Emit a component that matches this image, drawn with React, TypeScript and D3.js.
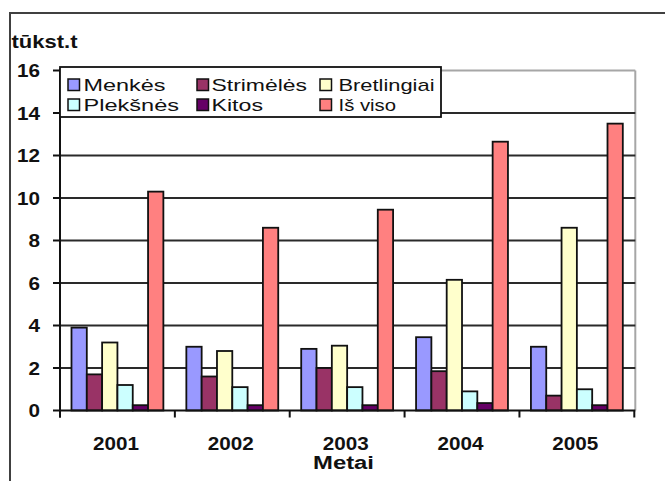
import React from "react";
import * as d3 from "d3";

const years = ["2001", "2002", "2003", "2004", "2005"];
const seriesNames = ["Menkės", "Strimėlės", "Bretlingiai", "Plekšnės", "Kitos", "Iš viso"];
const menkes = [3.9, 3.0, 2.9, 3.45, 3.0];
const strimeles = [1.7, 1.6, 2.0, 1.85, 0.7];
const bretlingiai = [3.2, 2.8, 3.05, 6.15, 8.6];
const pleksnes = [1.2, 1.1, 1.1, 0.9, 1.0];
const kitos = [0.25, 0.25, 0.25, 0.35, 0.25];
const isViso = [10.3, 8.6, 9.45, 12.65, 13.5];
const yTicks = [0, 2, 4, 6, 8, 10, 12, 14, 16];

const seriesValues = [menkes, strimeles, bretlingiai, pleksnes, kitos, isViso];
const colors = ["#9999FF", "#993366", "#FFFFCC", "#CCFFFF", "#660066", "#FF8080"];

const W = 665;
const H = 481;
const plot = { left: 60, right: 634.3, top: 70.5, bottom: 410.5 };
const font = "Arial, 'Liberation Sans', sans-serif";

// legend layout: three columns, two rows
const legendBox = { x: 60, y: 67, w: 381, h: 50 };
const legendCols = [68, 197, 320];
const legendTextX = [83.5, 211.5, 338.5];
const legendRows = [79, 99];
const legendTextWidth = [82, 95.5, 96, 95.5, 51.5, 57.5];

export default function App() {
  const x0 = d3.scaleBand<string>().domain(years).range([plot.left, plot.right]).paddingInner(0).paddingOuter(0);
  const x1 = d3
    .scaleBand<string>()
    .domain(seriesNames)
    .range([0, x0.bandwidth()])
    .paddingInner(0)
    .paddingOuter(0.75);
  const y = d3.scaleLinear().domain([0, 16]).range([plot.bottom, plot.top]);

  const boundaries = [...years.map((yr) => x0(yr) as number), plot.right];

  return (
    <div style={{ position: "absolute", left: 0, top: 0 }}>
      <svg width={W} height={H} style={{ display: "block", background: "#fff" }}>
        {/* chart area frame */}
        <rect x={10} y={13} width={700} height={520} fill="#fff" stroke="#404040" strokeWidth={2} />

        {/* plot area: grey top and right edges */}
        <line x1={plot.left} x2={plot.right + 1} y1={plot.top} y2={plot.top} stroke="#a6a6a6" strokeWidth={2} />
        <line x1={plot.right + 1} x2={plot.right + 1} y1={plot.top} y2={plot.bottom} stroke="#a6a6a6" strokeWidth={2} />

        {/* gridlines */}
        {yTicks
          .filter((t) => t > 0 && t < 16)
          .map((t) => (
            <line key={t} x1={plot.left} x2={plot.right + 1} y1={y(t)} y2={y(t)} stroke="#2a2a2a" strokeWidth={2} />
          ))}

        {/* bars */}
        {years.map((yr, i) => (
          <g key={yr}>
            {seriesNames.map((s, j) => {
              const v = seriesValues[j][i];
              const bx = (x0(yr) as number) + (x1(s) as number);
              return (
                <rect
                  key={s}
                  x={bx}
                  y={y(v)}
                  width={x1.bandwidth()}
                  height={y(0) - y(v)}
                  fill={colors[j]}
                  stroke="#111"
                  strokeWidth={1.8}
                />
              );
            })}
          </g>
        ))}

        {/* axes */}
        <line x1={plot.left} x2={plot.right + 1} y1={plot.bottom} y2={plot.bottom} stroke="#111" strokeWidth={2} />
        <line x1={plot.left} x2={plot.left} y1={plot.top - 2} y2={plot.bottom + 7} stroke="#111" strokeWidth={2} />
        {boundaries.map((bx, i) => (
          <line key={i} x1={bx} x2={bx} y1={plot.bottom} y2={plot.bottom + 7} stroke="#111" strokeWidth={2} />
        ))}
        {yTicks.map((t) => (
          <g key={t}>
            <line x1={plot.left - 7} x2={plot.left} y1={y(t)} y2={y(t)} stroke="#111" strokeWidth={2} />
            <text
              x={40}
              y={y(t) + 6.5}
              textAnchor="end"
              fontFamily={font}
              fontWeight="bold"
              fontSize={18}
              fill="#111"
              textLength={t >= 10 ? 23 : 11.5}
              lengthAdjust="spacingAndGlyphs"
            >
              {t}
            </text>
          </g>
        ))}

        {/* category labels */}
        {years.map((yr) => (
          <text
            key={yr}
            x={(x0(yr) as number) + x0.bandwidth() / 2 - 1.5}
            y={449.5}
            textAnchor="middle"
            fontFamily={font}
            fontWeight="bold"
            fontSize={18}
            fill="#111"
            textLength={46}
            lengthAdjust="spacingAndGlyphs"
          >
            {yr}
          </text>
        ))}
        <text
          x={343.5}
          y={468.5}
          textAnchor="middle"
          fontFamily={font}
          fontWeight="bold"
          fontSize={17.5}
          fill="#111"
          textLength={61}
          lengthAdjust="spacingAndGlyphs"
        >
          Metai
        </text>

        {/* unit label */}
        <text
          x={11.5}
          y={47.5}
          fontFamily={font}
          fontWeight="bold"
          fontSize={18}
          fill="#111"
          textLength={66}
          lengthAdjust="spacingAndGlyphs"
        >
          tūkst.t
        </text>

        {/* legend */}
        <rect
          x={legendBox.x}
          y={legendBox.y}
          width={legendBox.w}
          height={legendBox.h}
          fill="#fff"
          stroke="#111"
          strokeWidth={1.8}
        />
        {seriesNames.map((s, j) => {
          const col = j % 3;
          const row = Math.floor(j / 3);
          return (
            <g key={s}>
              <rect
                x={legendCols[col]}
                y={legendRows[row]}
                width={11.5}
                height={11.5}
                fill={colors[j]}
                stroke="#111"
                strokeWidth={1.5}
              />
              <text
                x={legendTextX[col]}
                y={legendRows[row] + 12}
                fontFamily={font}
                fontSize={17}
                fill="#111"
                textLength={legendTextWidth[j]}
                lengthAdjust="spacingAndGlyphs"
              >
                {s}
              </text>
            </g>
          );
        })}
      </svg>
    </div>
  );
}
